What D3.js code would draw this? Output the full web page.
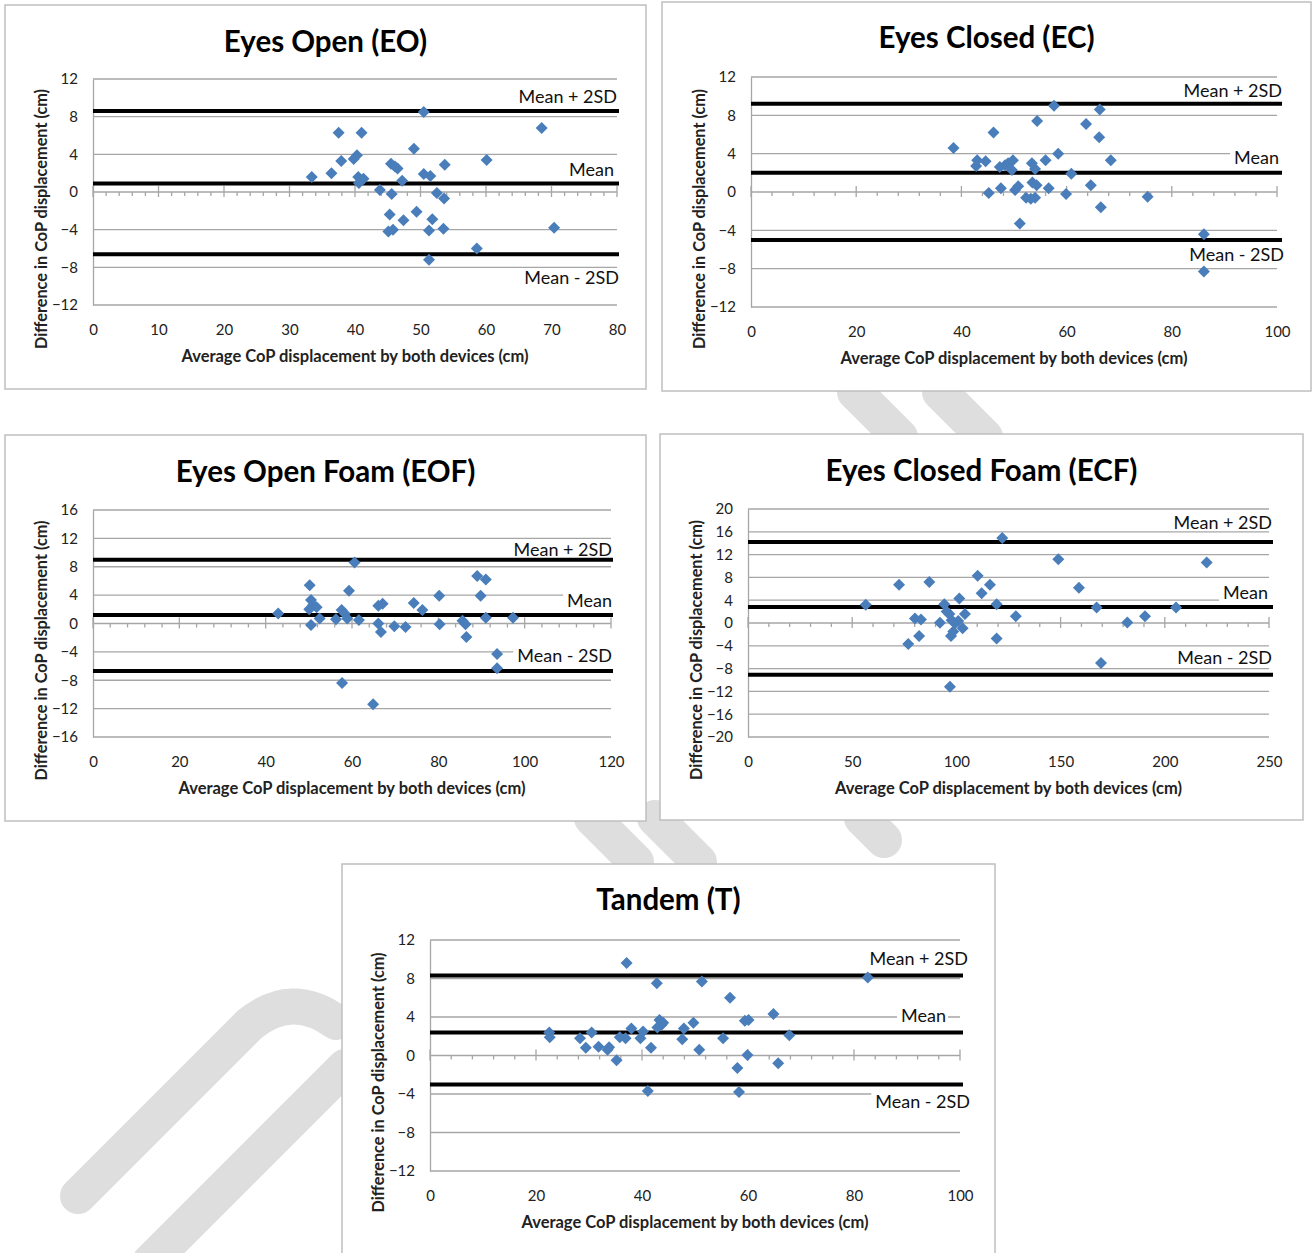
<!DOCTYPE html>
<html><head><meta charset="utf-8">
<script src="https://cdn.jsdelivr.net/npm/d3@7"></script>
<style>html,body{margin:0;padding:0;background:#fff;}svg{display:block;}</style>
</head><body>
<script>
// ---------------- DATA ----------------
const limitNames = ["Mean + 2SD", "Mean", "Mean - 2SD"];
const xTitle = "Average CoP displacement by both devices (cm)";
const yTitle = "Difference in CoP displacement  (cm)";

const eoTitle = "Eyes Open (EO)";
const eoAvg  = [33.4,36.4,37.5,37.9,39.8,40.3,41.0,40.5,41.3,40.6,43.8,45.5,46.1,46.5,45.6,47.2,45.3,47.4,45.1,45.8,49.0,49.4,50.5,50.5,51.5,51.3,51.3,51.8,52.5,53.6,53.7,53.5,58.6,60.1,68.5,70.4];
const eoDiff = [1.6,2.0,6.3,3.3,3.5,3.9,6.3,1.6,1.4,0.95,0.2,3.0,2.7,2.5,-0.2,1.2,-2.4,-3.0,-4.2,-4.0,4.6,-2.1,8.5,1.9,1.7,-7.2,-4.1,-2.9,-0.1,-0.7,2.9,-3.9,-6.0,3.4,6.8,-3.8];
const eoLimits = [8.6, 0.9, -6.6];
const eoXTicks = [0,10,20,30,40,50,60,70,80];
const eoYTicks = [-12,-8,-4,0,4,8,12];

const ecTitle = "Eyes Closed (EC)";
const ecAvg  = [38.5,46.1,43.0,42.8,44.6,45.2,47.5,47.3,48.3,48.9,49.8,49.6,50.2,50.8,51.1,52.3,53.2,54.0,53.4,54.0,53.5,54.3,54.4,56.0,56.6,57.6,58.4,59.9,60.9,63.7,64.6,66.2,66.3,66.5,68.4,75.4,86.1,86.1];
const ecDiff = [4.6,6.2,3.3,2.7,3.2,-0.1,0.4,2.6,2.8,3.0,3.3,2.3,0.2,0.6,-3.3,-0.6,-0.7,-0.6,3.0,2.4,1.0,0.7,7.4,3.3,0.4,9.0,4.0,-0.2,1.9,7.1,0.7,5.7,8.6,-1.6,3.3,-0.5,-4.4,-8.3];
const ecLimits = [9.2, 2.0, -5.0];
const ecXTicks = [0,20,40,60,80,100];
const ecYTicks = [-12,-8,-4,0,4,8,12];

const eofTitle = "Eyes Open Foam (EOF)";
const eofAvg  = [42.9,50.2,50.5,51.0,51.8,50.1,50.5,52.5,56.3,57.6,58.3,58.9,57.7,60.6,59.3,61.6,64.9,66.1,67.1,66.1,66.7,69.8,72.4,74.3,76.3,80.2,80.3,85.6,86.3,86.5,89.0,91.0,89.8,91.0,93.6,93.6,97.3];
const eofDiff = [1.4,5.4,3.3,2.6,2.3,2.0,-0.2,0.7,0.6,1.9,1.4,0.7,-8.4,8.6,4.6,0.5,-11.4,2.5,2.8,0.0,-1.2,-0.4,-0.5,2.9,1.9,3.9,-0.1,0.4,-0.1,-1.9,6.7,6.2,3.9,0.8,-4.3,-6.3,0.8];
const eofLimits = [9.0, 1.2, -6.7];
const eofXTicks = [0,20,40,60,80,100,120];
const eofYTicks = [-16,-12,-8,-4,0,4,8,12,16];

const ecfTitle = "Eyes Closed Foam (ECF)";
const ecfAvg  = [56.5,72.5,76.9,80.1,83.0,82.1,87.0,92.1,94.2,95.3,96.6,97.7,99.3,100.9,97.4,98.5,103.0,101.4,104.1,96.9,110.2,112.1,116.1,119.3,119.3,122.0,128.5,148.9,158.8,167.3,169.4,182.0,190.5,205.4,220.1];
const ecfDiff = [3.2,6.7,-3.7,0.8,0.6,-2.3,7.2,0.05,3.3,2.0,1.6,0.5,-0.05,0.35,-2.3,-1.5,-0.9,4.3,1.6,-11.2,8.3,5.2,6.7,3.3,-2.7,14.9,1.2,11.2,6.2,2.7,-7.0,0.1,1.2,2.7,10.6];
const ecfLimits = [14.2, 2.8, -9.1];
const ecfXTicks = [0,50,100,150,200,250];
const ecfYTicks = [-20,-16,-12,-8,-4,0,4,8,12,16,20];

const tTitle = "Tandem (T)";
const tAvg  = [22.5,22.6,28.3,29.4,30.5,31.8,33.8,33.5,35.2,35.8,36.9,37.1,38.0,39.7,40.2,41.7,41.1,42.8,43.3,43.7,42.9,44.0,47.6,47.9,49.7,50.8,51.3,55.3,56.6,58.0,58.3,59.4,60.1,59.9,64.8,65.7,67.8,82.6];
const tDiff = [2.4,1.9,1.8,0.8,2.4,0.9,0.85,0.6,-0.5,1.9,1.8,9.6,2.8,1.8,2.5,0.8,-3.7,7.5,3.7,3.2,2.9,3.4,1.7,2.8,3.4,0.6,7.7,1.8,6.0,-1.3,-3.8,3.6,3.7,0.05,4.3,-0.8,2.1,8.1];
const tLimits = [8.3, 2.4, -3.0];
const tXTicks = [0,20,40,60,80,100];
const tYTicks = [-12,-8,-4,0,4,8,12];

// ---------------- LAYOUT ----------------
const FONT = "Lato, 'Open Sans', sans-serif";
const panels = [
  {title: eoTitle, avg: eoAvg, diff: eoDiff, limits: eoLimits, xTicks: eoXTicks, yTicks: eoYTicks, minor: 2,
   box: [5,5,641,384], plot: [93,617,79,305], titleY: 40,
   lab: [[-15,0],[-15,-3],[23,2]], lineExt: 2},
  {title: ecTitle, avg: ecAvg, diff: ecDiff, limits: ecLimits, xTicks: ecXTicks, yTicks: ecYTicks, minor: 4,
   box: [662,2,649,389], plot: [751,1277,77,307], titleY: 36,
   lab: [[-14,5],[-16,2],[14,7]], lineExt: 5},
  {title: eofTitle, avg: eofAvg, diff: eofDiff, limits: eofLimits, xTicks: eofXTicks, yTicks: eofYTicks, minor: 4,
   box: [5,435,641,386], plot: [93,611,510,737], titleY: 470,
   lab: [[-11,1],[-15,1],[-16,1]], lineExt: 2},
  {title: ecfTitle, avg: ecfAvg, diff: ecfDiff, limits: ecfLimits, xTicks: ecfXTicks, yTicks: ecfYTicks, minor: 10,
   box: [660,434,643,386], plot: [748,1269,509,737], titleY: 469,
   lab: [[-20,3],[-15,-1],[-18,3]], lineExt: 4},
  {title: tTitle, avg: tAvg, diff: tDiff, limits: tLimits, xTicks: tXTicks, yTicks: tYTicks, minor: 4,
   box: [342,864,653,400], plot: [430,960,940,1171], titleY: 898,
   lab: [[-18,8],[-17,-14],[17,10]], lineExt: 3}
];

// light grey watermark strokes behind the charts (page decoration)
const watermark = [
  "M 78 1196 L 250 1024 Q 292 990 336 1022",
  "M 150 1262 L 345 1067",
  "M 855 392 L 900 437",
  "M 940 392 L 985 437",
  "M 592 818 L 636 862",
  "M 655 818 L 699 862",
  "M 862 818 L 884 840"
];

const svg = d3.select("body").append("svg").attr("width",1312).attr("height",1253)
  .style("font-family", FONT);
svg.append("rect").attr("width",1312).attr("height",1253).attr("fill","#fff");
svg.append("g").selectAll("path").data(watermark).join("path")
  .attr("d", d => d).attr("fill","none").attr("stroke","#dedede").attr("stroke-width",36).attr("stroke-linecap","round");

const GRID = "#a6a6a6";
panels.forEach(p => {
  const [L,R,T,B] = p.plot;
  const g = svg.append("g");
  g.append("rect").attr("x",p.box[0]).attr("y",p.box[1]).attr("width",p.box[2]).attr("height",p.box[3])
    .attr("fill","#fff").attr("stroke","#bfbfbf").attr("stroke-width",1.5);
  const x = d3.scaleLinear().domain([p.xTicks[0], p.xTicks[p.xTicks.length-1]]).range([L,R]);
  const y = d3.scaleLinear().domain([p.yTicks[0], p.yTicks[p.yTicks.length-1]]).range([B,T]);

  // title
  g.append("text").attr("x",(p.box[0]*2+p.box[2])/2).attr("y",p.titleY).attr("text-anchor","middle")
    .attr("dominant-baseline","central").attr("font-size",29.5).attr("font-weight","bold").attr("fill","#000")
    .text(p.title);

  // gridlines
  g.append("g").selectAll("line").data(p.yTicks.filter(v=>v!==0)).join("line")
    .attr("x1",L).attr("x2",R).attr("y1",d=>y(d)).attr("y2",d=>y(d))
    .attr("stroke",GRID).attr("stroke-width",1.3);

  // y axis
  const yAxis = d3.axisLeft(y).tickValues(p.yTicks).tickSize(0).tickPadding(15);
  const ya = g.append("g").attr("transform",`translate(${L},0)`).call(yAxis);
  ya.select(".domain").attr("stroke",GRID).attr("stroke-width",1.3);
  ya.selectAll("text").attr("font-size",15).attr("fill","#222").style("font-family",FONT);

  // x axis labels at bottom
  const xAxis = d3.axisBottom(x).tickValues(p.xTicks).tickSize(0).tickPadding(19);
  const xa = g.append("g").attr("transform",`translate(0,${B})`).call(xAxis);
  xa.select(".domain").remove();
  xa.selectAll("text").attr("font-size",15).attr("fill","#222").style("font-family",FONT);

  // x axis line at zero with ticks
  const y0 = y(0);
  g.append("line").attr("x1",L).attr("x2",R).attr("y1",y0).attr("y2",y0).attr("stroke",GRID).attr("stroke-width",1.3);
  const xmax = p.xTicks[p.xTicks.length-1];
  const minors = d3.range(p.xTicks[0], xmax + 1e-9, p.minor).filter(v => !p.xTicks.includes(v));
  g.append("g").selectAll("line").data(minors).join("line")
    .attr("x1",d=>x(d)).attr("x2",d=>x(d)).attr("y1",y0).attr("y2",y0+4).attr("stroke",GRID).attr("stroke-width",1.3);
  g.append("g").selectAll("line").data(p.xTicks).join("line")
    .attr("x1",d=>x(d)).attr("x2",d=>x(d)).attr("y1",y0-6).attr("y2",y0+5).attr("stroke",GRID).attr("stroke-width",1.3);

  // axis titles
  g.append("text").attr("x",(L+R)/2).attr("y",B+51).attr("text-anchor","middle").attr("dominant-baseline","central")
    .attr("font-size",16.5).attr("font-weight","bold").attr("fill","#222").text(xTitle);
  g.append("text").attr("transform",`translate(${L-53},${(T+B)/2+27}) rotate(-90)`).attr("text-anchor","middle")
    .attr("dominant-baseline","central").attr("font-size",16.3).attr("font-weight","bold").attr("fill","#222").text(yTitle);

  // limit labels
  p.limits.forEach((v,i) => {
    const cy = y(v) + p.lab[i][0];
    const rx = R + p.lab[i][1];
    const t = g.append("text").attr("x",rx).attr("y",cy).attr("text-anchor","end").attr("dominant-baseline","central")
      .attr("font-size",18).attr("fill","#111").text(limitNames[i]);
    const bb = t.node().getBBox();
    g.insert("rect", () => t.node()).attr("x",bb.x-4).attr("y",cy-9).attr("width",bb.width+6).attr("height",18).attr("fill","#fff");
  });

  // limit lines
  g.append("g").selectAll("line").data(p.limits).join("line")
    .attr("x1",L).attr("x2",R+p.lineExt).attr("y1",d=>y(d)).attr("y2",d=>y(d))
    .attr("stroke","#000").attr("stroke-width",4);

  // points (diamonds)
  const sym = d3.symbol().type(d3.symbolSquare).size(72);
  g.append("g").selectAll("path").data(p.avg.map((a,i)=>[a,p.diff[i]])).join("path")
    .attr("d",sym).attr("transform",d=>`translate(${x(d[0])},${y(d[1])}) rotate(45)`)
    .attr("fill","#4a7ebb");
});
</script>
</body></html>
